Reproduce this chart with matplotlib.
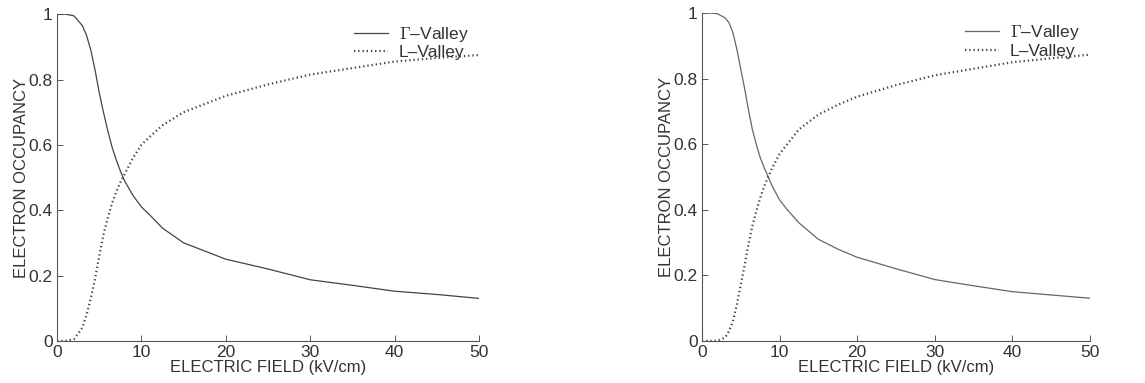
import matplotlib
matplotlib.use("Agg")
import matplotlib.pyplot as plt
import numpy as np

plt.rcParams['font.family'] = ['Liberation Sans', 'DejaVu Sans']
plt.rcParams['mathtext.fontset'] = 'cm'

# electric field (kV/cm)
field = [0, 1, 2, 3, 3.5, 4, 4.5, 5, 5.5, 6, 6.5, 7, 7.5, 8, 9, 10, 11, 12.5, 15, 17.5, 20, 25, 30, 35, 40, 45, 50]

# left panel
gamma_left = [1.0, 1.0, 0.995, 0.965, 0.935, 0.89, 0.83, 0.76, 0.70, 0.645, 0.595, 0.555, 0.52, 0.49, 0.445, 0.41, 0.385, 0.345, 0.30, 0.275, 0.25, 0.22, 0.187, 0.17, 0.152, 0.142, 0.13]
l_left = [0.0, 0.0, 0.005, 0.04, 0.08, 0.13, 0.19, 0.26, 0.325, 0.375, 0.42, 0.455, 0.485, 0.51, 0.56, 0.60, 0.625, 0.66, 0.70, 0.725, 0.75, 0.785, 0.815, 0.835, 0.855, 0.866, 0.875]

# right panel
gamma_right = [1.0, 1.0, 0.998, 0.985, 0.97, 0.94, 0.89, 0.83, 0.77, 0.705, 0.645, 0.60, 0.56, 0.53, 0.475, 0.43, 0.4, 0.36, 0.31, 0.28, 0.255, 0.22, 0.187, 0.168, 0.15, 0.14, 0.13]
l_right = [0.0, 0.0, 0.0, 0.01, 0.03, 0.06, 0.11, 0.17, 0.23, 0.295, 0.35, 0.395, 0.435, 0.47, 0.525, 0.57, 0.60, 0.645, 0.69, 0.72, 0.745, 0.78, 0.81, 0.83, 0.85, 0.862, 0.873]

xticks = [0, 10, 20, 30, 40, 50]
yticks = [0, 0.2, 0.4, 0.6, 0.8, 1]
ytick_labels = ['0', '0.2', '0.4', '0.6', '0.8', '1']

fig = plt.figure(figsize=(11.45, 3.83), dpi=100)
ax1 = fig.add_axes([0.0498, 0.11, 0.3686, 0.853])
ax2 = fig.add_axes([0.613, 0.11, 0.339, 0.856])

txt = '#333333'
for ax, g, l, lc in [(ax1, gamma_left, l_left, '#444444'), (ax2, gamma_right, l_right, '#666666')]:
    ax.plot(field, g, color=lc, lw=0.9, label=r'$\Gamma$–Valley')
    ax.plot(field, l, color='#444444', lw=1.6, linestyle=(0, (0.6, 1.3)), label='L–Valley')
    ax.set_xlim(0, 50)
    ax.set_ylim(0, 1)
    ax.set_xticks(xticks)
    ax.set_yticks(yticks)
    ax.set_yticklabels(ytick_labels)
    ax.spines['top'].set_visible(False)
    ax.spines['right'].set_visible(False)
    for s in ['left', 'bottom']:
        ax.spines[s].set_color('#555555')
        ax.spines[s].set_linewidth(0.8)
    ax.tick_params(direction='in', length=4, width=0.7, colors='#555555',
                   labelsize=12.5, labelcolor=txt)
    ax.tick_params(axis='x', pad=3)
    ax.tick_params(axis='y', pad=3)
    ax.set_xlabel('ELECTRIC FIELD (kV/cm)', fontsize=12, color=txt, labelpad=0)
    ax.set_ylabel('ELECTRON OCCUPANCY', fontsize=12, color=txt, labelpad=0)
    leg = ax.legend(loc='upper right', bbox_to_anchor=(1.0, 1.0), frameon=False,
                    fontsize=12.5, handlelength=2.0, handletextpad=0.6,
                    labelspacing=0.1, borderaxespad=0.2)
    for t in leg.get_texts():
        t.set_color(txt)

fig.savefig('out.png', dpi=100, facecolor='white')
